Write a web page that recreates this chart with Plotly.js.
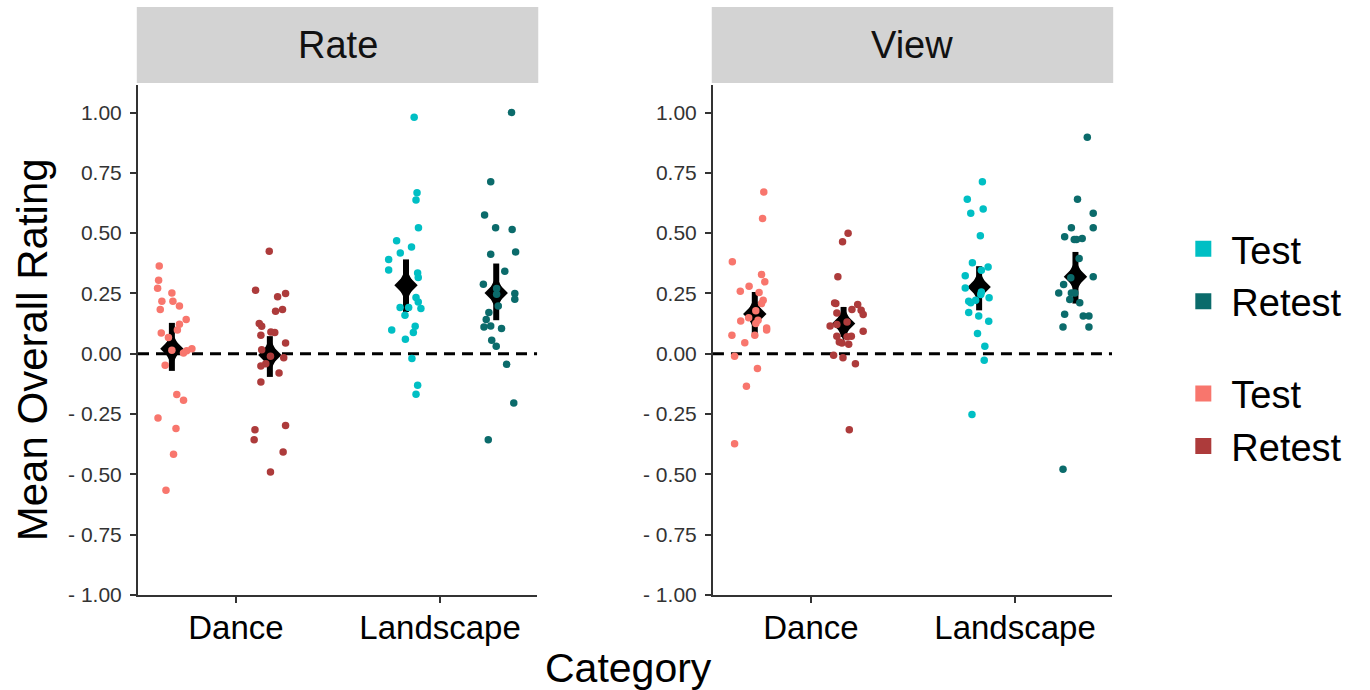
<!DOCTYPE html>
<html><head><meta charset="utf-8">
<script src="https://cdn.plot.ly/plotly-3.0.1.min.js"></script>
<style>html,body{margin:0;padding:0;background:#fff;} #chart{width:1370px;height:690px;}</style>
</head><body><div id="chart"></div>
<script>
// ---------- data ----------
const categories = ['Dance', 'Landscape'];
const panels = ['Rate', 'View'];
const sessions = ['Test', 'Retest'];
const yTickVals = [1, 0.75, 0.5, 0.25, 0, -0.25, -0.5, -0.75, -1];
const yTickText = ['1.00', '0.75', '0.50', '0.25', '0.00', '- 0.25', '- 0.50', '- 0.75', '- 1.00'];

// individual ratings and their horizontal jitter (category units)
const rateDanceTest = [0.364,0.305,0.271,0.252,0.218,0.218,0.198,0.183,0.142,0.122,0.098,0.086,0.067,0.021,0.012,0.015,0.003,-0.048,-0.169,-0.193,-0.266,-0.310,-0.417,-0.566];
const rateDanceTestJitter = [-0.062,-0.065,-0.070,0,-0.049,0.005,0.037,-0.057,0.070,0.037,0.027,-0.052,-0.017,0.098,0.073,0,0.057,-0.033,0.024,0.057,-0.068,0.020,0.008,-0.029];
const rateDanceRetest = [0.425,0.263,0.236,0.250,0.176,0.183,0.125,0.114,0.090,0.088,0.077,0.045,0.017,-0.010,-0.017,-0.041,-0.051,-0.080,-0.117,-0.297,-0.315,-0.356,-0.407,-0.490];
const rateDanceRetestJitter = [-0.003,-0.070,0.038,0.077,0.028,0.062,-0.052,-0.040,0.005,0.024,-0.044,0.077,-0.040,0.003,0.068,-0.020,-0.044,0.045,-0.044,0.077,-0.073,-0.077,0.065,0.003];
const rateLandTest = [0.980,0.667,0.637,0.522,0.468,0.443,0.418,0.391,0.347,0.335,0.316,0.233,0.215,0.188,0.192,0.192,0.160,0.114,0.088,0.098,0.060,-0.020,-0.131,-0.168];
const rateLandTestJitter = [0.040,0.054,0.049,0.061,-0.046,0.027,-0.028,-0.085,-0.085,0.057,0.060,0.049,0.060,0.073,-0.029,0.013,-0.005,0.045,0.036,-0.070,-0.003,0.029,0.057,0.049];
const rateLandRetest = [1.000,0.713,0.575,0.522,0.515,0.422,0.412,0.342,0.288,0.270,0.247,0.250,0.226,0.198,0.171,0.142,0.111,0.115,0.105,0.056,0.031,-0.044,-0.204,-0.356];
const rateLandRetestJitter = [0.075,-0.027,-0.057,-0.003,0.078,0.095,-0.027,0.042,-0.063,0.002,0.002,0.091,0.091,0.010,-0.036,-0.049,-0.060,-0.027,0.026,-0.022,0,0.051,0.086,-0.039];

const viewDanceTest = [0.670,0.561,0.381,0.329,0.298,0.280,0.259,0.254,0.222,0.208,0.178,0.139,0.149,0.136,0.125,0.107,0.098,0.077,0.077,0.046,-0.010,-0.061,-0.135,-0.373];
const viewDanceTestJitter = [0.044,0.038,-0.110,0.033,0.049,-0.028,-0.071,0.021,0.041,0.033,0.005,0.016,-0.030,-0.069,0.005,0.058,0.058,-0.112,0,-0.049,-0.099,0.013,-0.041,-0.099];
const viewDanceRetest = [0.499,0.464,0.319,0.208,0.210,0.204,0.180,0.183,0.163,0.169,0.132,0.115,0.121,0.093,0.073,0.073,0.070,0.049,0.045,0.039,-0.006,-0.017,-0.041,-0.315];
const viewDanceRetestJitter = [0.022,-0.005,-0.028,-0.038,-0.044,0.069,0.086,0.041,0.096,-0.033,0.017,-0.066,-0.033,0.096,-0.033,0.038,0.017,-0.021,-0.008,0.025,-0.049,-0.003,0.058,0.028];
const viewLandTest = [0.713,0.640,0.600,0.582,0.489,0.377,0.360,0.346,0.323,0.273,0.256,0.246,0.232,0.218,0.222,0.211,0.171,0.157,0.135,0.084,0.031,-0.027,-0.252];
const viewLandTestJitter = [0.016,-0.058,0.020,-0.041,0.006,-0.033,0.044,0.011,-0.068,-0.068,0.011,0.008,0.049,-0.051,-0.017,-0.041,-0.051,-0.002,0.047,-0.008,0.028,0.025,-0.035];
const viewLandRetest = [0.897,0.640,0.582,0.522,0.522,0.485,0.474,0.474,0.478,0.395,0.319,0.315,0.287,0.252,0.252,0.252,0.225,0.211,0.164,0.157,0.157,0.111,0.111,-0.479];
const viewLandRetestJitter = [0.058,0.010,0.087,0.087,-0.020,-0.053,-0.006,0.005,0.033,0.018,0.087,-0.023,-0.058,-0.082,-0.020,-0.003,-0.028,0.021,-0.053,0.038,0.066,-0.061,0.066,-0.061];

// summaries, order: Dance-Test, Dance-Retest, Landscape-Test, Landscape-Retest
const rateMean = [0.021, -0.005, 0.284, 0.252];
const rateLow  = [-0.071, -0.096, 0.173, 0.139];
const rateHigh = [0.128, 0.073, 0.391, 0.374];
const viewMean = [0.165, 0.125, 0.277, 0.319];
const viewLow  = [0.084, 0.070, 0.180, 0.208];
const viewHigh = [0.256, 0.194, 0.363, 0.422];

// ---------- styling / layout constants ----------
const FONT = 'Liberation Sans, Arial, Helvetica, sans-serif';
const COLORS = [['#F8766D', '#AD3B3B'], ['#00BFC4', '#0B6B6B']]; // [category][session]
const DODGE = { Rate: [[-0.314, 0.166], [-0.167, 0.275]], View: [[-0.275, 0.160], [-0.176, 0.296]] };
const groups = [{cat:0, ses:0}, {cat:0, ses:1}, {cat:1, ses:0}, {cat:1, ses:1}];
const pointData = {
  Rate: [[rateDanceTest, rateDanceTestJitter], [rateDanceRetest, rateDanceRetestJitter], [rateLandTest, rateLandTestJitter], [rateLandRetest, rateLandRetestJitter]],
  View: [[viewDanceTest, viewDanceTestJitter], [viewDanceRetest, viewDanceRetestJitter], [viewLandTest, viewLandTestJitter], [viewLandRetest, viewLandRetestJitter]]
};
const summary = { Rate: [rateMean, rateLow, rateHigh], View: [viewMean, viewLow, viewHigh] };

const traces = [];
panels.forEach((p, pi) => {
  const xa = pi === 0 ? 'x' : 'x2', ya = pi === 0 ? 'y' : 'y2';
  const [mean, lo, hi] = summary[p];
  const xs = groups.map(g => g.cat + 1 + DODGE[p][g.cat][g.ses]);
  traces.push({
    type: 'scatter', mode: 'markers', x: xs, y: mean, xaxis: xa, yaxis: ya,
    showlegend: false, hoverinfo: 'skip',
    marker: { symbol: 'diamond-tall', size: 24, color: '#000' },
    error_y: { type: 'data', symmetric: false,
      array: hi.map((h, i) => h - mean[i]), arrayminus: lo.map((l, i) => mean[i] - l),
      thickness: 6, width: 0, color: '#000' }
  });
  traces.push({
    type: 'scatter', mode: 'markers', x: xs, y: mean, xaxis: xa, yaxis: ya,
    showlegend: false, hoverinfo: 'skip',
    marker: { symbol: 'diamond', size: 18, color: '#000' }
  });
  groups.forEach((g, gi) => {
    const [vals, jit] = pointData[p][gi];
    traces.push({
      type: 'scatter', mode: 'markers', xaxis: xa, yaxis: ya,
      x: jit.map(j => g.cat + 1 + DODGE[p][g.cat][g.ses] + j), y: vals,
      name: categories[g.cat] + ' ' + sessions[g.ses],
      showlegend: false, hoverinfo: 'skip',
      marker: { size: 7.5, color: COLORS[g.cat][g.ses] }
    });
  });
});

// legend entries: Landscape group first, then Dance
[1, 0].forEach(c => {
  [0, 1].forEach(s => {
    traces.push({
      type: 'scatter', mode: 'markers', x: [null], y: [null], xaxis: 'x', yaxis: 'y',
      name: sessions[s], legendgroup: categories[c], showlegend: true, hoverinfo: 'skip',
      marker: { symbol: 'square', size: 16, color: COLORS[c][s] }
    });
  });
});

const xRange = [0.52, 2.475];
const yRange = [-1.0, 1.114];
const axisX = (dom) => ({
  domain: dom, range: xRange, tickvals: [1, 2], ticktext: categories,
  showline: true, linecolor: '#333', linewidth: 2, ticks: 'outside', ticklen: 6, tickwidth: 2, tickcolor: '#333',
  showgrid: false, zeroline: false, fixedrange: true,
  tickfont: { family: FONT, size: 33, color: '#000' }, ticklabelstandoff: -4
});
const axisY = (anchor) => ({
  anchor: anchor, range: yRange, tickvals: yTickVals, ticktext: yTickText,
  showline: true, linecolor: '#333', linewidth: 2, ticks: 'outside', ticklen: 6, tickwidth: 2, tickcolor: '#333',
  showgrid: false, zeroline: false, fixedrange: true,
  tickfont: { family: FONT, size: 21, color: '#333' }, ticklabelstandoff: 4
});

const shapes = [], annotations = [];
panels.forEach((p, pi) => {
  const xr = (pi === 0 ? 'x' : 'x2') + ' domain';
  const yr = pi === 0 ? 'y' : 'y2';
  shapes.push({ type: 'rect', xref: xr, yref: 'paper', x0: -0.003, x1: 1.003, y0: 1.004, y1: 1.153,
    fillcolor: '#D3D3D3', line: { width: 0 } });
  shapes.push({ type: 'line', xref: xr, yref: yr, x0: 0, x1: 1, y0: 0, y1: 0, layer: 'below',
    line: { color: '#000', width: 3, dash: '11px,7px' } });
  annotations.push({ xref: xr, yref: 'paper', x: 0.5, y: 1.078, text: p, showarrow: false,
    xanchor: 'center', yanchor: 'middle', font: { family: FONT, size: 38, color: '#111' } });
});
annotations.push({ xref: 'paper', yref: 'paper', x: 0.504, y: -0.143, text: 'Category', showarrow: false,
  xanchor: 'center', yanchor: 'middle', font: { family: FONT, size: 41, color: '#000' } });
annotations.push({ xref: 'paper', yref: 'paper', x: -0.1088, y: 0.48, text: 'Mean Overall Rating', showarrow: false,
  textangle: -90, xanchor: 'center', yanchor: 'middle', font: { family: FONT, size: 42, color: '#000' } });

const layout = {
  width: 1370, height: 690,
  margin: { l: 138, r: 258, t: 85, b: 95, autoexpand: false },
  paper_bgcolor: '#fff', plot_bgcolor: '#fff',
  font: { family: FONT, color: '#000' },
  xaxis: axisX([0, 0.4097]),
  xaxis2: axisX([0.5903, 1]),
  yaxis: axisY('x'),
  yaxis2: Object.assign(axisY('x2'), { matches: 'y' }),
  showlegend: true,
  legend: {
    x: 1.065, xanchor: 'left', y: 0.74, yanchor: 'top',
    traceorder: 'grouped', tracegroupgap: 40, itemwidth: 46,
    font: { family: FONT, size: 38, color: '#000' }, bgcolor: 'rgba(0,0,0,0)',
    itemclick: false, itemdoubleclick: false
  },
  shapes: shapes, annotations: annotations
};

Plotly.newPlot('chart', traces, layout, { displayModeBar: false, staticPlot: true });
</script>
</body></html>
